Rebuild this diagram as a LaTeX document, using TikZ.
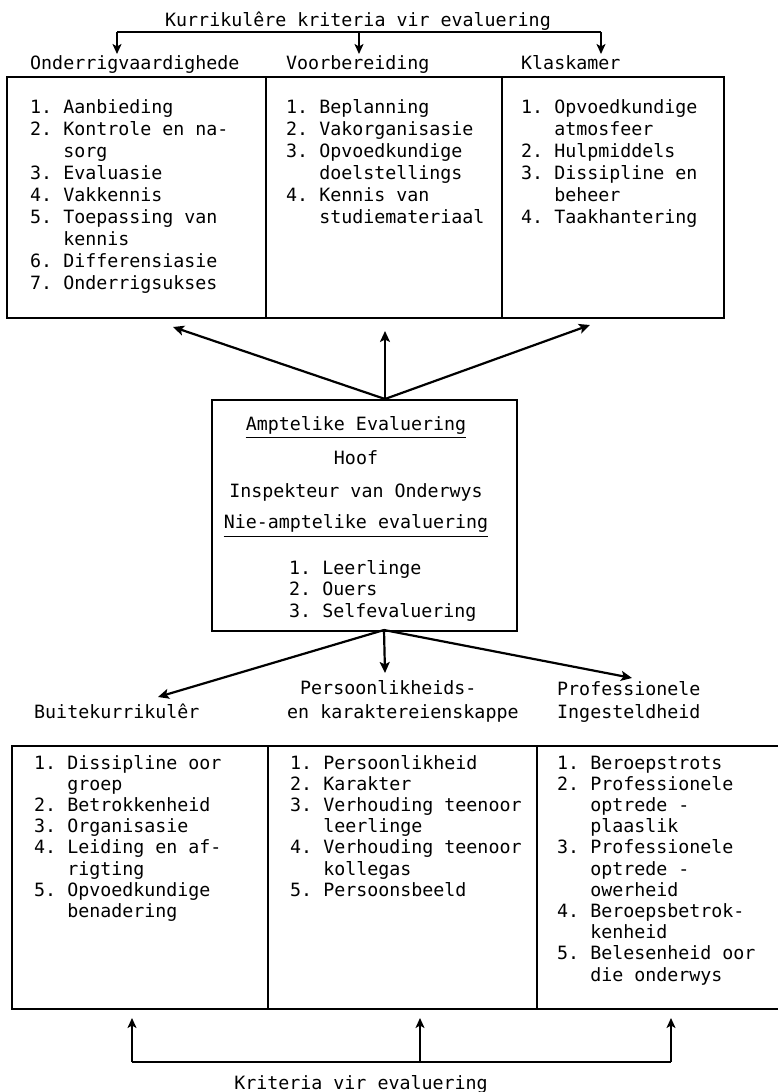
\documentclass[tikz,border=0pt]{standalone}
\usepackage{fontspec}
\setmonofont{DejaVu Sans Mono}
\usetikzlibrary{arrows.meta}
\begin{document}
\begin{tikzpicture}[x=1pt,y=-1pt,
  txt/.style={inner sep=0pt, anchor=base west, font=\ttfamily\fontsize{18.3}{22}\selectfont},
  ctxt/.style={txt, anchor=base},
  boxcol/.style={draw, line width=1.6pt, anchor=north west, inner sep=0pt},
  arr/.style={line width=2.2pt, -{Stealth[length=11pt,width=10pt,inset=2.5pt]}},
  brk/.style={line width=1.5pt},
  barr/.style={line width=1.6pt, -{Stealth[length=10pt,width=9pt,inset=2.5pt]}}]
\useasboundingbox (0,0) rectangle (777,1092);

% ---------- top section ----------
\node[ctxt] (title) at (358,26) {Kurrikulêre kriteria vir evaluering};
\coordinate (k1) at (117,32);
\coordinate (k2) at (359,32);
\coordinate (k3) at (601,32);
\coordinate (k1d) at (117,54);
\coordinate (k2d) at (359,54);
\coordinate (k3d) at (601,54);
\draw[brk] (k1) -- (k3);
\draw[barr] (k1) -- (k1d);
\draw[barr] (k2) -- (k2d);
\draw[barr] (k3) -- (k3d);

\node[txt] (h1) at (30,69.5) {Onderrigvaardighede};
\node[txt] (h2) at (286,69.5) {Voorbereiding};
\node[txt] (h3) at (521,69.5) {Klaskamer};

\node[boxcol, minimum width=259pt, minimum height=241pt] (tc1) at (6,76) {};
\node[boxcol, minimum width=236pt, minimum height=241pt] (tc2) at (265,76) {};
\node[boxcol, minimum width=222pt, minimum height=241pt] (tc3) at (501,76) {};

\foreach \t [count=\i] in {1. Aanbieding,2. Kontrole en na-,\hphantom{1. }sorg,3. Evaluasie,4. Vakkennis,5. Toepassing van,\hphantom{1. }kennis,6. Differensiasie,7. Onderrigsukses}
  \node[txt] (ta\i) at (30,{113+22*(\i-1)}) {\t};
\foreach \t [count=\i] in {1. Beplanning,2. Vakorganisasie,3. Opvoedkundige,\hphantom{1. }doelstellings,4. Kennis van,\hphantom{1. }studiemateriaal}
  \node[txt] (tb\i) at (286,{113+22*(\i-1)}) {\t};
\foreach \t [count=\i] in {1. Opvoedkundige,\hphantom{1. }atmosfeer,2. Hulpmiddels,3. Dissipline en,\hphantom{1. }beheer,4. Taakhantering}
  \node[txt] (tcx\i) at (521,{113+22*(\i-1)}) {\t};

% ---------- central box ----------
\node[boxcol, minimum width=305pt, minimum height=231pt] (cbox) at (211,399) {};
\node[ctxt] (amp) at (356,430) {Amptelike Evaluering};
\draw[line width=1.2pt] ([yshift=-7.5pt]amp.base west) -- ([yshift=-7.5pt]amp.base east);
\node[ctxt] (hoof) at (356,464) {Hoof};
\node[ctxt] (insp) at (356,497) {Inspekteur van Onderwys};
\node[ctxt] (nie) at (356,528) {Nie-amptelike evaluering};
\draw[line width=1.2pt] ([yshift=-8.5pt]nie.base west) -- ([yshift=-8.5pt]nie.base east);
\foreach \t [count=\i] in {1. Leerlinge,2. Ouers,3. Selfevaluering}
  \node[txt] (cl\i) at (289,{574+21.5*(\i-1)}) {\t};

% arrows up from central box
\coordinate (ctop) at (385,399);
\coordinate (t1) at (173,327);
\coordinate (t2) at (385,331);
\coordinate (t3) at (590,325);
\draw[arr] (ctop) -- (t1);
\draw[arr] (ctop) -- (t2);
\draw[arr] (ctop) -- (t3);

% arrows down from central box
\coordinate (cbot) at (384,630);
\coordinate (b1) at (158,697);
\coordinate (b2) at (385,673);
\coordinate (b3) at (632,678);
\draw[arr] (cbot) -- (b1);
\draw[arr] (cbot) -- (b2);
\draw[arr] (cbot) -- (b3);

% ---------- lower labels ----------
\node[txt] (l1) at (34,718) {Buitekurrikulêr};
\node[txt] (l2a) at (300,694) {Persoonlikheids-};
\node[txt] (l2b) at (287,718) {en karaktereienskappe};
\node[txt] (l3a) at (557,695) {Professionele};
\node[txt] (l3b) at (557,718) {Ingesteldheid};

% ---------- bottom boxes ----------
\node[boxcol, minimum width=256pt, minimum height=263pt] (bc1) at (11,745) {};
\node[boxcol, minimum width=269pt, minimum height=263pt] (bc2) at (267,745) {};
\node[boxcol, minimum width=244pt, minimum height=263pt] (bc3) at (536,745) {};

\foreach \t [count=\i] in {1. Dissipline oor,\hphantom{1. }groep,2. Betrokkenheid,3. Organisasie,4. Leiding en af-,\hphantom{1. }rigting,5. Opvoedkundige,\hphantom{1. }benadering}
  \node[txt] (ba\i) at (34,{769+21.2*(\i-1)}) {\t};
\foreach \t [count=\i] in {1. Persoonlikheid,2. Karakter,3. Verhouding teenoor,\hphantom{1. }leerlinge,4. Verhouding teenoor,\hphantom{1. }kollegas,5. Persoonsbeeld}
  \node[txt] (bb\i) at (290,{769+21.2*(\i-1)}) {\t};
\foreach \t [count=\i] in {1. Beroepstrots,2. Professionele,\hphantom{1. }optrede -,\hphantom{1. }plaaslik,3. Professionele,\hphantom{1. }optrede -,\hphantom{1. }owerheid,4. Beroepsbetrok-,\hphantom{1. }kenheid,5. Belesenheid oor,\hphantom{1. }die onderwys}
  \node[txt] (bcx\i) at (557,{769+21.2*(\i-1)}) {\t};

% ---------- bottom bracket ----------
\coordinate (q1) at (132,1062);
\coordinate (q2) at (420,1062);
\coordinate (q3) at (671,1062);
\coordinate (q1u) at (132,1018);
\coordinate (q2u) at (420,1018);
\coordinate (q3u) at (671,1018);
\draw[brk] (q1) -- (q3);
\draw[barr] (q1) -- (q1u);
\draw[barr] (q2) -- (q2u);
\draw[barr] (q3) -- (q3u);
\node[ctxt] (krit) at (361,1089) {Kriteria vir evaluering};
\end{tikzpicture}
\end{document}
